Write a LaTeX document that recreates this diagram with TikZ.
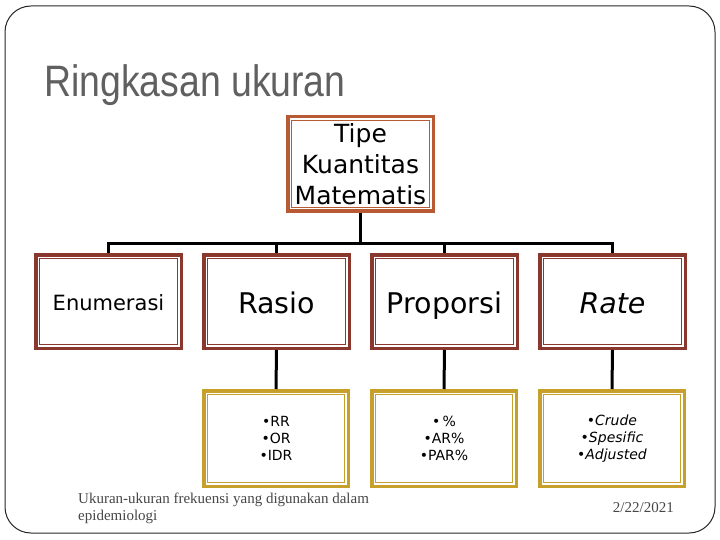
\documentclass[tikz,border=0pt]{standalone}
\usepackage{fontspec}
\usepackage{graphicx}
\setmainfont{DejaVu Sans}
\newfontfamily\titlefont{Liberation Sans}
\newfontfamily\footfont{Liberation Serif}
\definecolor{topbrown}{RGB}{184,90,52}
\definecolor{boxred}{RGB}{138,56,46}
\definecolor{boxgold}{RGB}{198,160,42}
\definecolor{titlegray}{RGB}{96,96,96}
\definecolor{footgray}{RGB}{70,70,70}

\begin{document}
\begin{tikzpicture}[x=1pt,y=-1pt,
  box/.style={draw=#1,line width=3.5pt,fill=white,inner sep=0pt,
    minimum width=145.5pt,minimum height=93.5pt,align=center},
  midbox/.style={box=boxred,text height=23pt,text depth=0pt,
    font=\fontsize{28.5}{32}\selectfont},
  lowbox/.style={box=boxgold,minimum width=144.5pt,minimum height=95.5pt,
    font=\fontsize{14}{17}\selectfont},
  link/.style={line width=3pt,black}]
\useasboundingbox (0,0) rectangle (720,540);
\draw[line width=1pt,black!85,rounded corners=26pt] (5,6) rectangle (715,533);

% title
\node[anchor=base west,inner sep=0pt,titlegray,font=\titlefont\fontsize{44}{48}\selectfont]
  (title) at (44,97) {\scalebox{0.85}[1]{Ringkasan ukuran}};

% boxes
\node[box=topbrown,minimum height=94.5pt,font=\fontsize{25}{31}\selectfont]
  (tipe) at (360.5,164) {Tipe\\Kuantitas\\Matematis};
\node[midbox,text height=17pt,font=\fontsize{21}{24}\selectfont] (enum) at (108.5,301.5) {Enumerasi};
\node[midbox] (rasio) at (276.5,301.5) {Rasio};
\node[midbox] (prop) at (444.5,301.5) {Proporsi};
\node[midbox,font=\fontsize{28.5}{32}\selectfont\itshape] (rate) at (612.5,301.5) {Rate};
\node[lowbox] (rasiolist) at (276,438.5) {•RR\\•OR\\•IDR};
\node[lowbox] (proplist) at (444,438.5) {•\,\%\\•AR\%\\•PAR\%};
\node[lowbox] (ratelist) at (612,438.5) {•\textit{Crude}\\•\textit{Spesific}\\•\textit{Adjusted}};

% inner frames
\foreach \b/\c in {tipe/topbrown,enum/boxred,rasio/boxred,prop/boxred,rate/boxred,
    rasiolist/boxgold,proplist/boxgold,ratelist/boxgold}
  \draw[\c,line width=1.5pt] ([shift={(5.5pt,-5.5pt)}]\b.north west)
    rectangle ([shift={(-5.5pt,5.5pt)}]\b.south east);

% connectors
\coordinate (bus) at (360,243);
\draw[link] (tipe.south) -- (tipe.south|-bus);
\draw[link] (enum.north) |- (rate.north|-bus) -- (rate.north);
\draw[link] (rasio.north) -- (rasio.north|-bus);
\draw[link] (prop.north) -- (prop.north|-bus);
\draw[link] (rasio.south) -- (rasiolist.north);
\draw[link] (prop.south) -- (proplist.north);
\draw[link] (rate.south) -- (ratelist.north);

% footer
\node[anchor=north west,inner sep=0pt,align=left,footgray,font=\footfont\fontsize{15}{17}\selectfont]
  (note) at (78,493) {Ukuran-ukuran frekuensi yang digunakan dalam\\epidemiologi};
\node[anchor=base east,inner sep=0pt,footgray,font=\footfont\fontsize{15}{17}\selectfont]
  (date) at (674,512) {2/22/2021};
\end{tikzpicture}
\end{document}
